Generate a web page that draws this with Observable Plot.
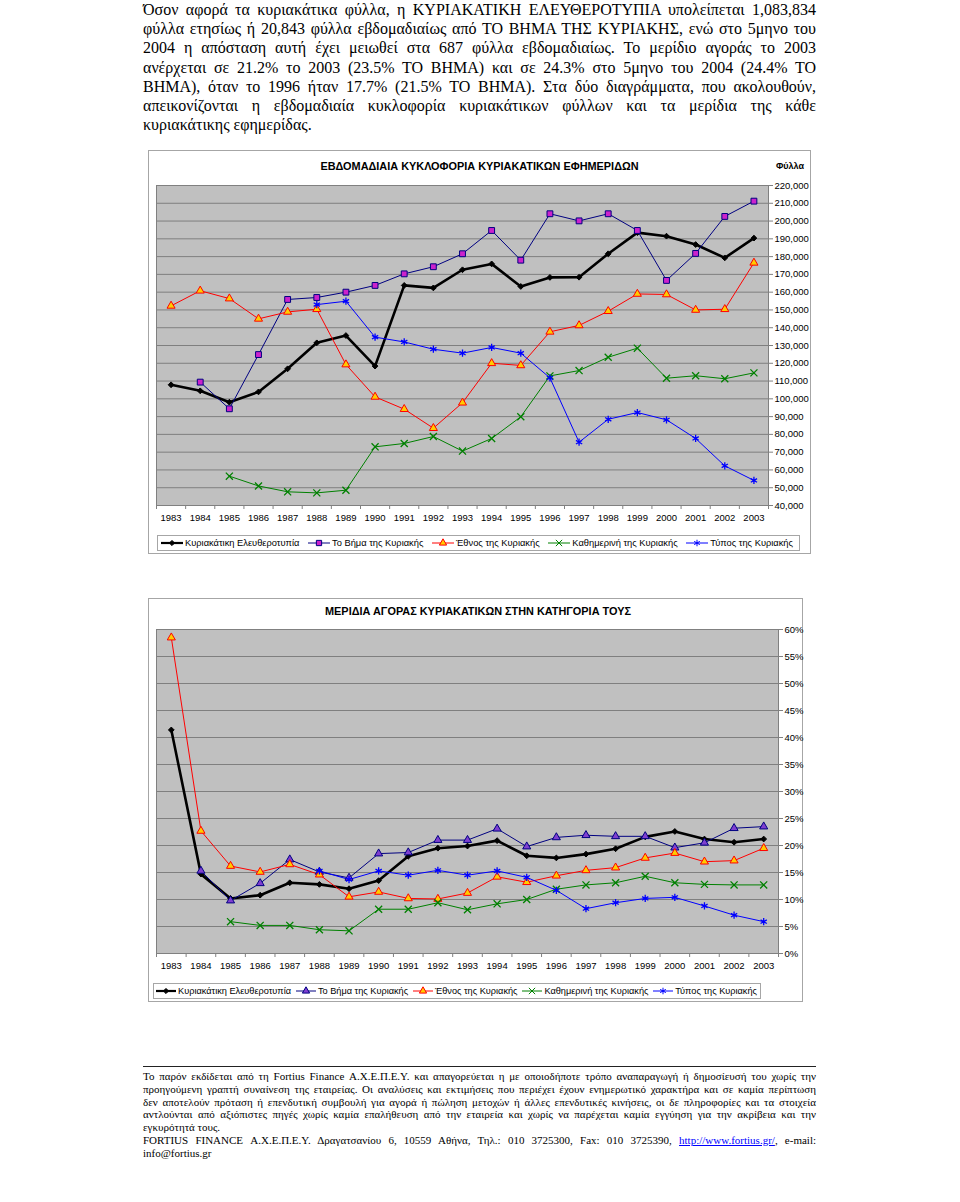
<!DOCTYPE html>
<html>
<head>
<meta charset="utf-8">
<script src="https://cdn.jsdelivr.net/npm/d3@7"></script>
<script src="https://cdn.jsdelivr.net/npm/@observablehq/plot@0.6"></script>
<style>
  html, body { margin: 0; padding: 0; background: #fff; }
  body { width: 960px; height: 1202px; position: relative; overflow: hidden; color: #000; }
  .abs { position: absolute; }
  .serif { font-family: "Liberation Serif", "Times New Roman", serif; }
  .sans { font-family: "Liberation Sans", Arial, sans-serif; }
  .para { left: 143px; top: 0px; width: 673px; font-size: 16px; line-height: 19.2px; }
  .para div, .foot div { text-align: justify; text-align-last: justify; }
  .para div.last, .foot div.last { text-align: left; text-align-last: left; }
  .frame { border: 1px solid #a6a6a6; box-sizing: border-box; }
  .title { font-weight: bold; font-size: 10.9px; text-align: center; white-space: nowrap; }
  .legend { border: 1px solid #a6a6a6; box-sizing: border-box; background: #fff; }
  .legend .item { position: absolute; top: 0; height: 100%; display: flex; align-items: center; white-space: nowrap; }
  .legend svg { display: block; margin-right: 2px; }
  .foot { left: 143px; top: 1068px; width: 673px; font-size: 11px; line-height: 12.8px; }
  .foot a { color: #0000ff; text-decoration: underline; }
</style>
</head>
<body>
<div class="abs para serif" id="para"></div>

<div class="abs frame" style="left:148px;top:150px;width:663px;height:404px;"></div>
<div class="abs title sans" style="left:148px;width:663px;top:160px;" id="title1"></div>
<div class="abs sans" style="left:770px;width:40px;top:161px;font-size:9px;font-weight:bold;text-align:center;" id="unit1"></div>
<div class="abs" style="left:148px;top:180px;" id="chart1"></div>
<div class="abs legend sans" style="left:157px;top:535px;width:643px;height:16px;font-size:9.3px;" id="legend1"></div>

<div class="abs frame" style="left:148px;top:598px;width:655px;height:404px;"></div>
<div class="abs title sans" style="left:148px;width:660px;top:605px;" id="title2"></div>
<div class="abs" style="left:148px;top:620px;" id="chart2"></div>
<div class="abs legend sans" style="left:153px;top:983px;width:608px;height:16px;font-size:9.2px;" id="legend2"></div>

<div class="abs" style="left:143px;top:1066px;width:673px;height:0;border-top:1px solid #222;"></div>
<div class="abs foot serif" id="foot" style="top:1070px;"></div>

<script>
// ---------------- DATA ----------------
const years = [1983,1984,1985,1986,1987,1988,1989,1990,1991,1992,1993,1994,1995,1996,1997,1998,1999,2000,2001,2002,2003];

const seriesNames = ["Κυριακάτικη Ελευθεροτυπία","Το Βήμα της Κυριακής","Έθνος της Κυριακής","Καθημερινή της Κυριακής","Τύπος της Κυριακής"];

// Weekly circulation (copies)
const circEleftherotypia = [107900,104500,98100,103900,116900,131500,135600,118400,163800,162400,172600,175900,163200,168300,168400,181600,193500,191500,186800,179300,190400];
const circVima          = [null,109400,94400,124900,155900,157000,160000,163800,170300,174300,181600,194700,178000,204100,200100,204100,194700,166600,181800,202600,211200];
const circEthnos        = [152300,160800,156400,145000,148900,150400,119300,101100,94200,83500,97800,120000,118800,137700,141300,149300,159000,158700,150000,150400,176500];
const circKathimerini   = [null,null,56500,51000,47700,47100,48600,73000,74900,78800,70600,77700,89900,112900,115900,123400,128500,111600,113000,111300,114600];
const circTypos         = [null,null,null,null,null,153000,154900,134700,132000,127900,125700,128900,125700,111800,75600,88500,92300,88200,77700,62300,54100];

// Market share (%)
const shareEleftherotypia = [41.4,14.7,10.2,10.8,13.1,12.8,12.0,13.5,18.0,19.5,19.9,20.9,18.1,17.7,18.4,19.4,21.6,22.6,21.2,20.6,21.2];
const shareVima           = [null,15.3,9.8,13.0,17.4,15.1,14.0,18.5,18.7,21.0,21.0,23.1,19.8,21.5,21.9,21.7,21.7,19.6,20.5,23.2,23.5];
const shareEthnos         = [58.5,22.7,16.2,15.1,16.5,14.6,10.5,11.4,10.2,10.1,11.2,14.2,13.2,14.4,15.4,15.9,17.7,18.6,17.0,17.2,19.5];
const shareKathimerini    = [null,null,5.9,5.2,5.2,4.4,4.2,8.2,8.2,9.4,8.1,9.2,10.0,11.9,12.7,13.1,14.3,13.1,12.8,12.7,12.7];
const shareTypos          = [null,null,null,null,null,15.3,13.7,15.3,14.5,15.4,14.5,15.3,14.1,11.7,8.3,9.4,10.2,10.4,8.8,7.1,5.9];

// Axis ticks
const circTicks = [40000,50000,60000,70000,80000,90000,100000,110000,120000,130000,140000,150000,160000,170000,180000,190000,200000,210000,220000];
const shareTicks = [0,5,10,15,20,25,30,35,40,45,50,55,60];

// Texts
const title1 = "ΕΒΔΟΜΑΔΙΑΙΑ ΚΥΚΛΟΦΟΡΙΑ ΚΥΡΙΑΚΑΤΙΚΩΝ ΕΦΗΜΕΡΙΔΩΝ";
const unit1 = "Φύλλα";
const title2 = "ΜΕΡΙΔΙΑ ΑΓΟΡΑΣ ΚΥΡΙΑΚΑΤΙΚΩΝ ΣΤΗΝ ΚΑΤΗΓΟΡΙΑ ΤΟΥΣ";
const paraLines = [
  "Όσον αφορά τα κυριακάτικα φύλλα, η ΚΥΡΙΑΚΑΤΙΚΗ ΕΛΕΥΘΕΡΟΤΥΠΙΑ υπολείπεται 1,083,834",
  "φύλλα ετησίως ή 20,843 φύλλα εβδομαδιαίως από ΤΟ ΒΗΜΑ ΤΗΣ ΚΥΡΙΑΚΗΣ, ενώ στο 5μηνο του",
  "2004 η απόσταση αυτή έχει μειωθεί στα 687 φύλλα εβδομαδιαίως. Το μερίδιο αγοράς το 2003",
  "ανέρχεται σε 21.2% το 2003 (23.5% ΤΟ ΒΗΜΑ) και σε 24.3% στο 5μηνο του 2004 (24.4% ΤΟ",
  "ΒΗΜΑ), όταν το 1996 ήταν 17.7% (21.5% ΤΟ ΒΗΜΑ). Στα δύο διαγράμματα, που ακολουθούν,",
  "απεικονίζονται η εβδομαδιαία κυκλοφορία κυριακάτικων φύλλων και τα μερίδια της κάθε",
  "κυριακάτικης εφημερίδας."
];
const footLines = [
  "Το παρόν εκδίδεται από τη Fortius Finance Α.Χ.Ε.Π.Ε.Υ. και απαγορεύεται η με οποιοδήποτε τρόπο αναπαραγωγή ή δημοσίευσή του χωρίς την",
  "προηγούμενη γραπτή συναίνεση της εταιρείας. Οι αναλύσεις και εκτιμήσεις που περιέχει έχουν ενημερωτικό χαρακτήρα και σε καμία περίπτωση",
  "δεν αποτελούν πρόταση ή επενδυτική συμβουλή για αγορά ή πώληση μετοχών ή άλλες επενδυτικές κινήσεις, οι δε πληροφορίες και τα στοιχεία",
  "αντλούνται από αξιόπιστες πηγές χωρίς καμία επαλήθευση από την εταιρεία και χωρίς να παρέχεται καμία εγγύηση για την ακρίβεια και την",
  "εγκυρότητά τους."
];
const footContact = "FORTIUS FINANCE Α.Χ.Ε.Π.Ε.Υ. Δραγατσανίου 6, 10559 Αθήνα, Τηλ.: 010 3725300, Fax: 010 3725390,";
const footUrl = "http://www.fortius.gr/";
const footMailLabel = "e-mail:";
const footMail = "info@fortius.gr";

// ---------------- STYLES ----------------
const styles1 = [
  {stroke: "#000000", width: 2.6, symbol: "diamond2", r: 2.6, fill: "#000000", mstroke: "#000000"},
  {stroke: "#000080", width: 1,   symbol: "square",   r: 3.3, fill: "#cc22cc", mstroke: "#000080"},
  {stroke: "#ff0000", width: 1,   symbol: "triangle", r: 3.0, fill: "#ffcc00", mstroke: "#ff0000"},
  {stroke: "#008000", width: 1,   symbol: "times",    r: 3.3, fill: "none",    mstroke: "#008000"},
  {stroke: "#0000ff", width: 1,   symbol: "asterisk", r: 3.4, fill: "none",    mstroke: "#0000ff"}
];
const styles2 = styles1.map((s, i) => i === 1 ? {...s, symbol: "triangle", r: 3.0, fill: "#7f3fd0", mstroke: "#000080"} : s);

// ---------------- TEXT ----------------
const para = document.getElementById("para");
paraLines.forEach((t, i) => {
  const d = document.createElement("div");
  d.textContent = t;
  if (i === paraLines.length - 1) d.className = "last";
  para.appendChild(d);
});
const foot = document.getElementById("foot");
footLines.forEach((t, i) => {
  const d = document.createElement("div");
  d.textContent = t;
  if (i === footLines.length - 1) d.className = "last";
  foot.appendChild(d);
});
{
  const d = document.createElement("div");
  d.appendChild(document.createTextNode(footContact + " "));
  const a = document.createElement("a"); a.textContent = footUrl; a.href = "#";
  d.appendChild(a);
  d.appendChild(document.createTextNode(",   " + footMailLabel));
  foot.appendChild(d);
  const e = document.createElement("div"); e.className = "last"; e.textContent = footMail;
  foot.appendChild(e);
}
document.getElementById("title1").textContent = title1;
document.getElementById("unit1").textContent = unit1;
document.getElementById("title2").textContent = title2;

// ---------------- CHARTS ----------------
function toRows(arrays) {
  const rows = [];
  arrays.forEach((vals, si) => vals.forEach((v, i) => {
    if (v != null) rows.push({series: seriesNames[si], si, year: years[i], value: v});
  }));
  return rows;
}
const boundaries = years.map(y => y - 0.5).concat([years[years.length - 1] + 0.5]);

function makeChart({rows, styles, yDomain, yTicks, yFormat, width, height, margins}) {
  const marks = [
    Plot.frame({fill: "#c0c0c0", stroke: "none"}),
    Plot.gridY(yTicks, {stroke: "#7f7f7f", strokeOpacity: 1, strokeWidth: 1}),
    Plot.frame({stroke: "#808080", strokeWidth: 1}),
    Plot.axisX({ticks: years, tickSize: 0, tickPadding: 9, tickFormat: d => String(d), fill: "#000", label: null}),
    Plot.axisX({ticks: boundaries, tickSize: 4, text: null, stroke: "#808080", label: null}),
    Plot.axisY({ticks: yTicks, anchor: "right", tickSize: 4, tickPadding: 2, tickFormat: yFormat, textAnchor: "start", stroke: "#808080", fill: "#000", label: null})
  ];
  styles.forEach((s, si) => {
    const data = rows.filter(r => r.si === si);
    marks.push(Plot.line(data, {x: "year", y: "value", stroke: s.stroke, strokeWidth: s.width, curve: "linear"}));
  });
  styles.forEach((s, si) => {
    const data = rows.filter(r => r.si === si);
    marks.push(Plot.dot(data, {x: "year", y: "value", symbol: () => s.symbol, r: s.r, fill: s.fill, stroke: s.mstroke, strokeWidth: s.symbol === "times" || s.symbol === "asterisk" ? 1.3 : 1}));
  });
  return Plot.plot({
    width, height,
    marginLeft: margins[0], marginRight: margins[1], marginTop: margins[2], marginBottom: margins[3],
    style: {fontFamily: '"Liberation Sans", Arial, sans-serif', fontSize: "9.5px", background: "transparent", overflow: "visible", color: "#000"},
    x: {type: "linear", domain: [1982.5, 2003.5], axis: null, label: null},
    y: {type: "linear", domain: yDomain, axis: null, label: null},
    symbol: {type: "identity"},
    marks
  });
}

const chart1 = makeChart({
  rows: toRows([circEleftherotypia, circVima, circEthnos, circKathimerini, circTypos]),
  styles: styles1,
  yDomain: [40000, 220000], yTicks: circTicks, yFormat: d3.format(","),
  width: 662, height: 350, margins: [8, 42, 5, 25]
});
document.getElementById("chart1").appendChild(chart1);

const chart2 = makeChart({
  rows: toRows([shareEleftherotypia, shareVima, shareEthnos, shareKathimerini, shareTypos]),
  styles: styles2,
  yDomain: [0, 60], yTicks: shareTicks, yFormat: d => d + "%",
  width: 662, height: 360, margins: [8, 32, 9, 27]
});
document.getElementById("chart2").appendChild(chart2);

// ---------------- LEGENDS ----------------
function symbolPath(name, r) {
  const map = {diamond2: d3.symbolDiamond2, square: d3.symbolSquare, triangle: d3.symbolTriangle, times: d3.symbolTimes, asterisk: d3.symbolAsterisk};
  return d3.symbol(map[name], r * r * Math.PI)();
}
// Items are spread evenly between a first-sample start and a last-text end (page x).
function makeLegend(el, styles, startX, endX, sampleW) {
  const legendLeft = el.getBoundingClientRect().left + 1;
  const items = styles.map((s, i) => {
    const item = document.createElement("div");
    item.className = "item";
    const ns = "http://www.w3.org/2000/svg";
    const svg = document.createElementNS(ns, "svg");
    svg.setAttribute("width", sampleW); svg.setAttribute("height", 10);
    const ln = document.createElementNS(ns, "line");
    ln.setAttribute("x1", 0); ln.setAttribute("x2", sampleW); ln.setAttribute("y1", 5); ln.setAttribute("y2", 5);
    ln.setAttribute("stroke", s.stroke); ln.setAttribute("stroke-width", Math.min(s.width, 2.2));
    svg.appendChild(ln);
    const p = document.createElementNS(ns, "path");
    p.setAttribute("d", symbolPath(s.symbol, s.r * 0.9));
    p.setAttribute("transform", `translate(${sampleW / 2},5)`);
    p.setAttribute("fill", s.fill); p.setAttribute("stroke", s.mstroke);
    p.setAttribute("stroke-width", 1);
    svg.appendChild(p);
    item.appendChild(svg);
    const t = document.createElement("span");
    t.textContent = seriesNames[i];
    item.appendChild(t);
    el.appendChild(item);
    return item;
  });
  const widths = items.map(it => it.getBoundingClientRect().width);
  const total = d3.sum(widths);
  const gap = Math.max(4, (endX - startX - total) / (items.length - 1));
  let x = startX;
  items.forEach((it, i) => {
    it.style.left = (x - legendLeft) + "px";
    x += widths[i] + gap;
  });
}
makeLegend(document.getElementById("legend1"), styles1, 161, 793, 22);
makeLegend(document.getElementById("legend2"), styles2, 156, 757, 20);
</script>
</body>
</html>
